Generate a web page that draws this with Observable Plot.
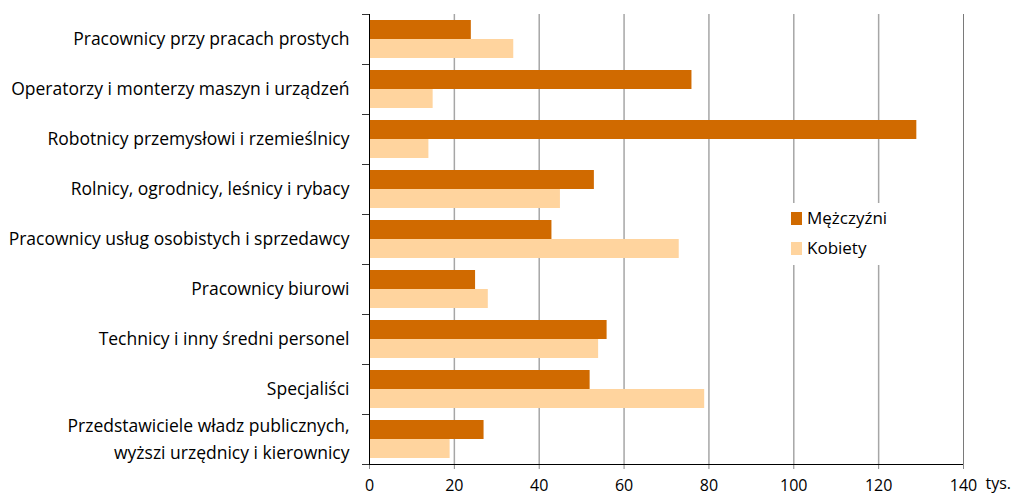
<!DOCTYPE html>
<html>
<head>
<meta charset="utf-8">
<script src="https://cdn.jsdelivr.net/npm/d3@7"></script>
<script src="https://cdn.jsdelivr.net/npm/@observablehq/plot@0.6"></script>
<style>
  html, body { margin: 0; padding: 0; background: #fff; }
  #wrap { position: relative; width: 1018px; height: 495px; font-family: "Open Sans", sans-serif; }
  #legend { position: absolute; left: 785px; top: 203px; width: 106px; height: 62px; background: #fff; font-size: 17px; color: #000; }
  .item { position: absolute; left: 6px; display: flex; align-items: center; line-height: 20px; }
  .sw { width: 11px; height: 13px; margin-right: 5px; }
</style>
</head>
<body>
<div id="wrap"></div>
<script>
const categories = [
  "Pracownicy przy pracach prostych",
  "Operatorzy i monterzy maszyn i urządzeń",
  "Robotnicy przemysłowi i rzemieślnicy",
  "Rolnicy, ogrodnicy, leśnicy i rybacy",
  "Pracownicy usług osobistych i sprzedawcy",
  "Pracownicy biurowi",
  "Technicy i inny średni personel",
  "Specjaliści",
  "Przedstawiciele władz publicznych,\nwyższi urzędnicy i kierownicy"
];
const men   = [24, 76, 129, 53, 43, 25, 56, 52, 27];
const women = [34, 15, 14, 45, 73, 28, 54, 79, 19];
const series = ["Mężczyźni", "Kobiety"];
const colors = ["#D06A00", "#FFD49E"];
const xTicks = [0, 20, 40, 60, 80, 100, 120, 140];
const unit = "tys.";

const menData = categories.map((c, i) => ({category: c, value: men[i]}));
const womenData = categories.map((c, i) => ({category: c, value: women[i]}));

const W = 1018, H = 495, mt = 14, mr = 55, mb = 31, ml = 369;
const band = (H - mt - mb) / categories.length;
const font = "'Open Sans', sans-serif";
const single = categories.filter(c => !c.includes("\n"));
const multi = categories.filter(c => c.includes("\n"));

const chart = Plot.plot({
  width: W, height: H,
  marginTop: mt, marginRight: mr, marginBottom: mb, marginLeft: ml,
  style: {fontFamily: font, background: "#fff", overflow: "visible"},
  x: {domain: [0, 140], label: null},
  y: {type: "band", domain: categories, padding: 0, label: null},
  marks: [
    Plot.ruleX(xTicks.filter(d => d > 0 && d < 140), {stroke: "#a6a6a6", strokeWidth: 1.5}),
    Plot.ruleX([140], {stroke: "#7a7a7a", strokeWidth: 1}),
    Plot.barX(menData, {y: "category", x: "value", fill: colors[0], insetTop: 6, insetBottom: 25}),
    Plot.barX(womenData, {y: "category", x: "value", fill: colors[1], insetTop: 25, insetBottom: 6}),
    Plot.axisX({ticks: xTicks, tickSize: 5, tickPadding: 10, fontSize: 16, stroke: "#888", fill: "#000", tickFormat: d => String(d)}),
    Plot.ruleY([categories[categories.length - 1]], {dy: band / 2, stroke: "#000", strokeWidth: 1}),
    Plot.axisY({tickSize: 7, tickFormat: () => "", dy: -band / 2, stroke: "#333"}),
    Plot.axisY({tickSize: 7, tickFormat: () => "", dy: band / 2, stroke: "#333"}),
    Plot.ruleX([0], {stroke: "#000", strokeWidth: 1}),
    Plot.text(single, {y: d => d, frameAnchor: "left", dx: -20, textAnchor: "end", fontSize: 17.5, fill: "#000"}),
    Plot.text(multi, {y: d => d, frameAnchor: "left", dx: -20, dy: -3, textAnchor: "end", fontSize: 17.5, lineHeight: 1.55, fill: "#000"}),
    Plot.text([unit], {frameAnchor: "bottom-right", dx: 22, dy: 24, textAnchor: "start", fontSize: 16, fill: "#000"})
  ]
});

const wrap = document.getElementById("wrap");
wrap.appendChild(chart);

const legend = document.createElement("div");
legend.id = "legend";
series.forEach((s, i) => {
  const it = document.createElement("div");
  it.className = "item";
  it.style.top = (5 + i * 30) + "px";
  const sw = document.createElement("div");
  sw.className = "sw";
  sw.style.background = colors[i];
  const t = document.createElement("span");
  t.textContent = s;
  it.appendChild(sw); it.appendChild(t);
  legend.appendChild(it);
});
wrap.appendChild(legend);
</script>
</body>
</html>
